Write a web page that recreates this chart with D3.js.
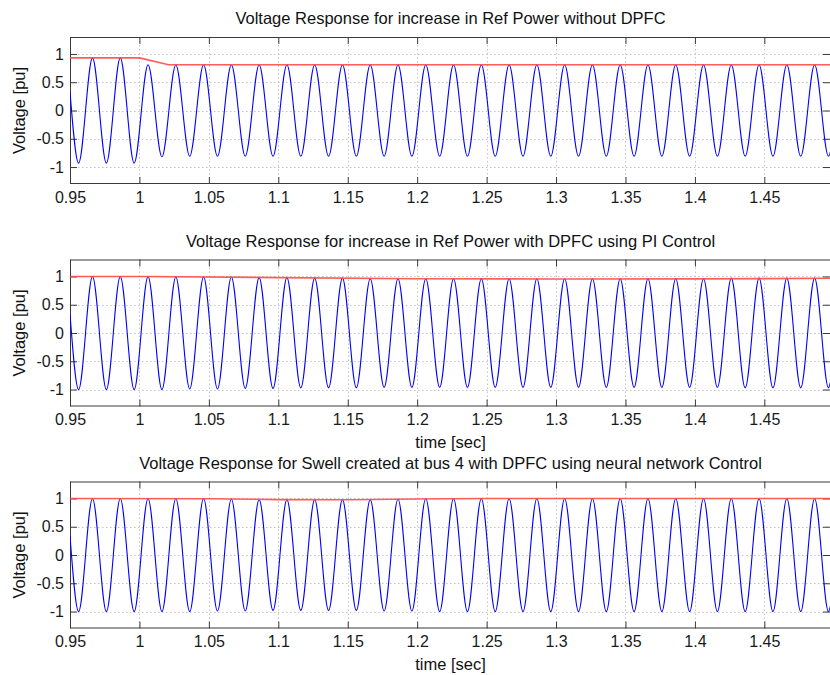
<!DOCTYPE html>
<html>
<head>
<meta charset="utf-8">
<script src="https://cdn.jsdelivr.net/npm/d3@7/dist/d3.min.js"></script>
<style>
  html, body { margin: 0; padding: 0; background: #fff; }
  svg { display: block; font-family: "Liberation Sans", Arial, sans-serif; }
</style>
</head>
<body>
<svg id="chart" width="830" height="675"></svg>
<script>
// ---- data -------------------------------------------------------------
// Sample instants: window start, each extremum of the 50 Hz wave, window end.
const sampleTime = [
  0.95,
  0.9562, 0.9662, 0.9762, 0.9862, 0.9962,
  1.0062, 1.0162, 1.0262, 1.0362, 1.0462, 1.0562, 1.0662, 1.0762, 1.0862, 1.0962,
  1.1062, 1.1162, 1.1262, 1.1362, 1.1462, 1.1562, 1.1662, 1.1762, 1.1862, 1.1962,
  1.2062, 1.2162, 1.2262, 1.2362, 1.2462, 1.2562, 1.2662, 1.2762, 1.2862, 1.2962,
  1.3062, 1.3162, 1.3262, 1.3362, 1.3462, 1.3562, 1.3662, 1.3762, 1.3862, 1.3962,
  1.4062, 1.4162, 1.4262, 1.4362, 1.4462, 1.4562, 1.4662, 1.4762, 1.4862, 1.4962,
  1.498
];

// Bus voltage without DPFC (drops after the reference power step at 1.0 s)
const voltageNoDpfc = [
  0.33,
  -0.93, 0.93, -0.93, 0.93, -0.93,
  0.81, -0.82, 0.81, -0.81, 0.81, -0.81, 0.81, -0.81, 0.81, -0.81,
  0.81, -0.81, 0.81, -0.81, 0.81, -0.81, 0.81, -0.81, 0.81, -0.81,
  0.81, -0.81, 0.81, -0.81, 0.81, -0.81, 0.81, -0.81, 0.81, -0.81,
  0.81, -0.81, 0.81, -0.81, 0.81, -0.81, 0.81, -0.81, 0.81, -0.81,
  0.81, -0.81, 0.81, -0.81, 0.81, -0.81, 0.81, -0.81, 0.81, -0.81,
  -0.69
];

// Bus voltage with DPFC under PI control
const voltagePi = [
  0.34,
  -1.00, 1.00, -1.00, 1.00, -1.00,
  1.00, -1.00, 0.99, -0.99, 0.99, -0.99, 0.99, -0.98, 0.98, -0.98,
  0.98, -0.97, 0.97, -0.97, 0.97, -0.97, 0.96, -0.96, 0.96, -0.96,
  0.96, -0.96, 0.96, -0.96, 0.96, -0.96, 0.96, -0.96, 0.96, -0.96,
  0.96, -0.96, 0.96, -0.96, 0.96, -0.96, 0.96, -0.96, 0.96, -0.96,
  0.96, -0.96, 0.97, -0.97, 0.97, -0.97, 0.97, -0.97, 0.97, -0.97,
  -0.82
];

// Bus voltage with DPFC under neural network control (swell at bus 4)
const voltageNn = [
  0.34,
  -1.00, 1.00, -1.00, 1.00, -1.00,
  1.00, -1.00, 1.00, -1.00, 1.00, -0.99, 0.99, -0.99, 0.98, -0.98,
  0.98, -0.98, 0.98, -0.98, 0.98, -0.98, 0.98, -0.99, 0.99, -0.99,
  1.00, -1.00, 1.00, -1.00, 1.00, -1.00, 1.00, -1.00, 1.00, -1.00,
  1.00, -1.00, 1.00, -1.00, 1.00, -1.00, 1.00, -1.00, 1.00, -1.00,
  1.00, -1.00, 1.00, -1.00, 1.00, -1.00, 1.00, -1.00, 1.00, -1.00,
  -0.85
];

// Voltage magnitude traces (red)
const magNoDpfcTime = [0.95, 1.0, 1.021, 1.498];
const magNoDpfc     = [0.93, 0.93, 0.81, 0.81];
const magPiTime     = [0.95, 1.0, 1.1, 1.2, 1.3, 1.4, 1.498];
const magPi         = [1.0, 1.0, 0.98, 0.96, 0.955, 0.957, 0.968];
const magNnTime     = [0.95, 1.05, 1.1, 1.15, 1.2, 1.25, 1.498];
const magNn         = [1.0, 0.995, 0.98, 0.978, 0.99, 1.0, 1.0];

const xTicks = [0.95, 1, 1.05, 1.1, 1.15, 1.2, 1.25, 1.3, 1.35, 1.4, 1.45];
const xTickLabels = ["0.95", "1", "1.05", "1.1", "1.15", "1.2", "1.25", "1.3", "1.35", "1.4", "1.45"];
const yTicks = [-1, -0.5, 0, 0.5, 1];
const yTickLabels = ["-1", "-0.5", "0", "0.5", "1"];

const titles = [
  "Voltage Response for increase in Ref Power without DPFC",
  "Voltage Response for increase in Ref Power with DPFC using PI Control",
  "Voltage Response for Swell created at bus 4 with DPFC using neural network Control"
];
const yLabel = "Voltage [pu]";
const xLabel = "time [sec]";

// ---- layout ------------------------------------------------------------
const svg = d3.select("#chart");
svg.append("rect").attr("width", 830).attr("height", 675).attr("fill", "#fff");

const left = 70, right = 831;
const panels = [
  { top: 37,    bottom: 184,   wave: voltageNoDpfc, magT: magNoDpfcTime, mag: magNoDpfc, xlabel: false },
  { top: 259.5, bottom: 406.5, wave: voltagePi,     magT: magPiTime,     mag: magPi,     xlabel: true },
  { top: 481.5, bottom: 628.5, wave: voltageNn,     magT: magNnTime,     mag: magNn,     xlabel: true }
];

const x = d3.scaleLinear().domain([0.95, 1.498]).range([left, right]);
const axisColor = "#3a3a3a";
const tickLen = 7;

panels.forEach((p, i) => {
  const y = d3.scaleLinear().domain([-1.3, 1.3]).range([p.bottom, p.top]);
  const g = svg.append("g");
  const clipId = "clip" + i;
  g.append("clipPath").attr("id", clipId)
    .append("rect").attr("x", left).attr("y", p.top)
    .attr("width", right - left).attr("height", p.bottom - p.top);

  // grid
  const grid = g.append("g").attr("stroke", "#c4c4c4").attr("stroke-width", 1)
    .attr("stroke-dasharray", "1.5,2.5");
  grid.selectAll("line.gx").data(xTicks).join("line")
    .attr("x1", d => Math.round(x(d)) + 0.5).attr("x2", d => Math.round(x(d)) + 0.5)
    .attr("y1", p.top).attr("y2", p.bottom);
  grid.selectAll("line.gy").data(yTicks).join("line")
    .attr("y1", d => Math.round(y(d)) + 0.5).attr("y2", d => Math.round(y(d)) + 0.5)
    .attr("x1", left).attr("x2", right);

  // axes (MATLAB style, ticks inside on all four sides)
  const fmtX = (d, j) => xTickLabels[j];
  const fmtY = (d, j) => yTickLabels[j];
  const axB = g.append("g").attr("transform", `translate(0,${p.bottom})`)
    .call(d3.axisBottom(x).tickValues(xTicks).tickFormat(fmtX)
      .tickSizeInner(-tickLen).tickSizeOuter(0).tickPadding(7.5));
  const axT = g.append("g").attr("transform", `translate(0,${p.top})`)
    .call(d3.axisTop(x).tickValues(xTicks).tickFormat("")
      .tickSizeInner(-tickLen).tickSizeOuter(0));
  const axL = g.append("g").attr("transform", `translate(${left},0)`)
    .call(d3.axisLeft(y).tickValues(yTicks).tickFormat(fmtY)
      .tickSizeInner(-tickLen).tickSizeOuter(0).tickPadding(6));
  const axR = g.append("g").attr("transform", `translate(${right - 1},0)`)
    .call(d3.axisRight(y).tickValues(yTicks).tickFormat("")
      .tickSizeInner(-tickLen).tickSizeOuter(0));
  [axB, axT, axL, axR].forEach(a => {
    a.select(".domain").remove();
    a.selectAll("line").attr("stroke", axisColor);
    a.selectAll("text").attr("fill", "#1a1a1a")
      .style("font-size", "16px").style("font-family", "'Liberation Sans', Arial, sans-serif");
  });

  // box
  g.append("rect").attr("x", left + 0.5).attr("y", p.top + 0.5)
    .attr("width", right - left).attr("height", p.bottom - p.top - 1)
    .attr("fill", "none").attr("stroke", axisColor).attr("stroke-width", 1);

  // waveform
  const waveLine = d3.line()
    .x((d, j) => x(sampleTime[j])).y(d => y(d))
    .curve(d3.curveMonotoneX);
  g.append("path").attr("clip-path", `url(#${clipId})`)
    .datum(p.wave)
    .attr("d", waveLine)
    .attr("fill", "none").attr("stroke", "#0000ff").attr("stroke-width", 1.1);

  // magnitude
  const magLine = d3.line()
    .x((d, j) => x(p.magT[j])).y(d => y(d));
  g.append("path").attr("clip-path", `url(#${clipId})`)
    .datum(p.mag)
    .attr("d", magLine)
    .attr("fill", "none").attr("stroke", "#ff4a4a").attr("stroke-width", 1.6)
    .attr("stroke-opacity", 0.9);

  // title
  svg.append("text")
    .attr("x", (left + right) / 2).attr("y", p.top - 13)
    .attr("text-anchor", "middle").attr("fill", "#111")
    .style("font-size", "16.5px")
    .text(titles[i]);

  // y label
  svg.append("text")
    .attr("transform", `translate(25,${(p.top + p.bottom) / 2}) rotate(-90)`)
    .attr("text-anchor", "middle").attr("fill", "#111")
    .style("font-size", "16.5px")
    .text(yLabel);

  // x label
  if (p.xlabel) {
    svg.append("text")
      .attr("x", (left + right) / 2).attr("y", p.bottom + 41.5)
      .attr("text-anchor", "middle").attr("fill", "#111")
      .style("font-size", "16.5px")
      .text(xLabel);
  }
});
</script>
</body>
</html>
